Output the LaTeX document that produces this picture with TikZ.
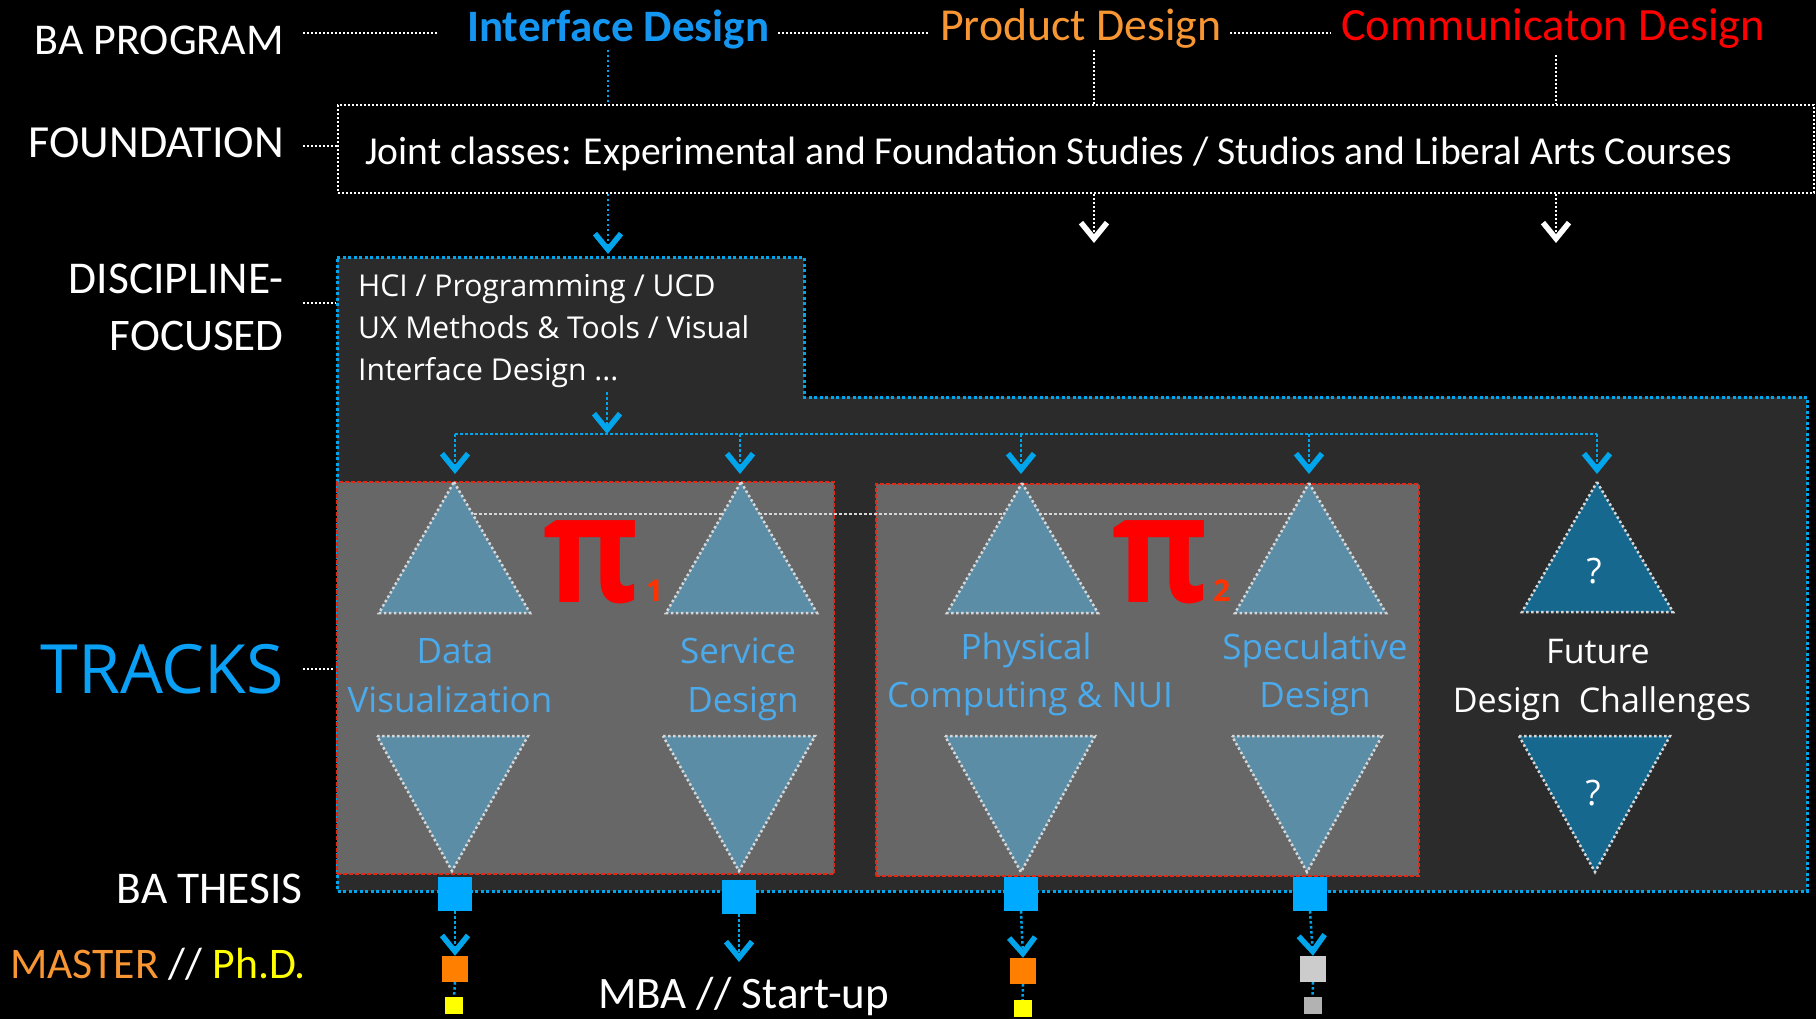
\documentclass[tikz,border=0pt]{standalone}
\usepackage{fontspec}
\usepackage{graphicx}
\setmainfont{Carlito}
\newfontfamily\osans{Open Sans}
\usetikzlibrary{arrows.meta}
\newcommand\myfs[1]{\fontsize{#1}{#1}\selectfont}
\definecolor{ifblue}{RGB}{20,150,240}
\definecolor{pdorange}{RGB}{247,150,50}
\definecolor{cdred}{RGB}{255,0,0}
\definecolor{ublue}{RGB}{0,165,235}
\definecolor{discfill}{RGB}{43,43,43}
\definecolor{trackfill}{RGB}{103,103,103}
\definecolor{trackred}{RGB}{225,40,20}
\definecolor{trifill}{RGB}{92,141,166}
\definecolor{futfill}{RGB}{23,104,143}
\definecolor{tridot}{RGB}{215,215,215}
\definecolor{tlblue}{RGB}{75,170,235}
\definecolor{tracksblue}{RGB}{10,160,245}
\definecolor{sqblue}{RGB}{0,170,255}
\definecolor{sqorange}{RGB}{255,128,0}
\definecolor{sqyellow}{RGB}{255,255,0}
\definecolor{sqgrayA}{RGB}{204,204,204}
\definecolor{sqgrayB}{RGB}{178,178,178}
\definecolor{subred}{RGB}{255,50,0}
\begin{document}
\begin{tikzpicture}[x=1pt,y=-1pt,
  lbl/.style={text=white,inner sep=0pt,font=\myfs{45}},
  wdot/.style={draw=white,line width=2pt,dash pattern=on 2pt off 2pt},
  bdot/.style={draw=ublue,line width=2.5pt,dash pattern=on 2.5pt off 2.5pt},
  barrow/.style={bdot,-{Straight Barb[length=16pt,width=26pt,line width=5.5pt]}},
  warrow/.style={wdot,-{Straight Barb[length=16pt,width=26pt,line width=5.5pt]}},
  tri/.style={fill=trifill,draw=tridot,line width=2.5pt,dash pattern=on 2.5pt off 2.5pt},
  futtri/.style={tri,fill=futfill},
  trackbox/.style={fill=trackfill,draw=trackred,line width=1.5pt,dash pattern=on 4pt off 2pt,inner sep=0pt,anchor=north west},
  tl/.style={text=tlblue,inner sep=0pt,anchor=base,font=\osans\myfs{35}},
  sq/.style={inner sep=0pt,draw=none,anchor=center}
]
\useasboundingbox (0,0) rectangle (1816,1019);
\fill[black] (0,0) rectangle (1816,1019);

% ---------- top row ----------
\node[lbl,anchor=base east,font=\myfs{44}] (baprog) at (284,55) {BA PROGRAM};
\node[inner sep=0pt,anchor=base west,text=ifblue,font=\bfseries\myfs{45}] (iface) at (467,42) {Interface Design};
\node[inner sep=0pt,anchor=base west,text=pdorange,font=\myfs{45.8}] (prod) at (940,41) {Product Design};
\node[inner sep=0pt,anchor=base west,text=cdred,font=\myfs{46.3}] (comm) at (1341,41) {Communicaton Design};
\coordinate (d1a) at (303,33); \coordinate (d1b) at (437,33);
\coordinate (d2a) at (778,33); \coordinate (d2b) at (929,33);
\coordinate (d3a) at (1230,33); \coordinate (d3b) at (1331,33);
\draw[wdot] (d1a) -- (d1b);
\draw[wdot] (d2a) -- (d2b);
\draw[wdot] (d3a) -- (d3b);

% ---------- foundation ----------
\node[lbl,anchor=base east,font=\myfs{46}] (found) at (284,158) {FOUNDATION};
\node[wdot,inner sep=0pt,anchor=north west,minimum width=1476pt,minimum height=88pt] (fbox) at (337,104) {};
\node[lbl,anchor=base west,font=\myfs{39.6}] (joint) at (365,165) {Joint classes: Experimental and Foundation Studies / Studios and Liberal Arts Courses};
\coordinate (fd) at (303,146);
\draw[wdot] (fd) -- (fd -| fbox.west);
\coordinate (vi) at (608,50); \coordinate (vp) at (1094,50); \coordinate (vc) at (1556,55);
\draw[bdot] (vi) -- (vi |- fbox.north);
\draw[wdot] (vp) -- (vp |- fbox.north);
\draw[wdot] (vc) -- (vc |- fbox.north);
\coordinate (ai) at (608,254); \coordinate (ap) at (1094,243); \coordinate (ac) at (1556,243);
\draw[warrow] (vp |- fbox.south) -- (ap);
\draw[warrow] (vc |- fbox.south) -- (ac);

% ---------- discipline ----------
\path[fill=discfill,draw=ublue,line width=3pt,dash pattern=on 3pt off 2.5pt]
  (337,258) -- (804,258) -- (804,397) -- (1807,397) -- (1807,891) -- (337,891) -- cycle;
\draw[barrow] (ai |- fbox.south) -- (ai);
\node[lbl,anchor=base east,font=\myfs{45.5}] (disc1) at (284,294) {DISCIPLINE-};
\node[lbl,anchor=base east,font=\myfs{45.2}] (disc2) at (284,350) {FOCUSED};
\coordinate (dd) at (303,303);
\draw[wdot] (dd) -- (336,303);
\node[lbl,anchor=base west,font=\osans\myfs{30.1}] (hci1) at (358,297) {HCI / Programming / UCD};
\node[lbl,anchor=base west,font=\osans\myfs{30.1}] (hci2) at (358,338) {UX Methods \& Tools / Visual};
\node[lbl,anchor=base west,font=\osans\myfs{30.1}] (hci3) at (358,380) {Interface Design ...};

% distribution
\coordinate (ds) at (607,392);
\coordinate (dh) at (607,434);
\draw[barrow] (ds) -- (dh);
\coordinate (h1) at (455,434); \coordinate (h2) at (740,434); \coordinate (h3) at (1021,434);
\coordinate (h4) at (1309,434); \coordinate (h5) at (1597,434);
\draw[bdot] (h1) -- (h5);

% ---------- tracks ----------
\node[trackbox,minimum width=497pt,minimum height=392pt] (tb1) at (336,481) {};
\node[trackbox,minimum width=543pt,minimum height=392pt] (tb2) at (875,483) {};
\foreach \c in {h1,h2,h3,h4,h5}{
  \draw[barrow] (\c) -- ++(0,40);
}
\draw[draw=tridot,line width=2.5pt,dash pattern=on 2.5pt off 2.5pt] (454,514) -- (1309,514);

% triangles
\path[tri] (454,482) -- (530,613) -- (379,613) -- cycle;
\path[tri] (377,736) -- (528,736) -- (452,871) -- cycle;
\path[tri] (741,482) -- (817,613) -- (666,613) -- cycle;
\path[tri] (663,736) -- (815,736) -- (739,871) -- cycle;
\path[tri] (1022,483) -- (1098,613) -- (947,613) -- cycle;
\path[tri] (945,736) -- (1095,736) -- (1021,872) -- cycle;
\path[tri] (1309,483) -- (1386,613) -- (1235,613) -- cycle;
\path[tri] (1232,736) -- (1382,736) -- (1307,872) -- cycle;
\path[futtri] (1597,482) -- (1673,612) -- (1522,612) -- cycle;
\path[futtri] (1519,736) -- (1670,736) -- (1595,872) -- cycle;
\node[inner sep=0pt,anchor=base,text=white,font=\osans\myfs{35}] (q1) at (1594,583) {?};
\node[inner sep=0pt,anchor=base,text=white,font=\osans\myfs{35}] (q2) at (1593,805) {?};

% pi symbols
\node[inner sep=0pt,anchor=base west,text=cdred,font=\osans\bfseries\myfs{150}] (pi1) at (543,602) {\scalebox{0.87}[1]{π}};
\node[inner sep=0pt,anchor=base west,text=subred,font=\osans\bfseries\myfs{30}] (sub1) at (646,601) {1};
\node[inner sep=0pt,anchor=base west,text=cdred,font=\osans\bfseries\myfs{150}] (pi2) at (1112,602) {\scalebox{0.87}[1]{π}};
\node[inner sep=0pt,anchor=base west,text=subred,font=\osans\bfseries\myfs{30}] (sub2) at (1213,601) {2};

% track labels
\node[tl] (dv1) at (455,663) {Data};
\node[tl] (dv2) at (450,712) {Visualization};
\node[tl] (sd1) at (738,663) {Service};
\node[tl] (sd2) at (743,712) {Design};
\node[tl] (pc1) at (1026,659) {Physical};
\node[tl] (pc2) at (1030,707) {Computing \& NUI};
\node[tl] (sp1) at (1315,659) {Speculative};
\node[tl] (sp2) at (1315,707) {Design};
\node[tl,text=white,font=\osans\myfs{34}] (fu1) at (1598,663) {Future};
\node[tl,text=white,font=\osans\myfs{34}] (fu2) at (1602,712) {Design\ \ Challenges};

\node[inner sep=0pt,anchor=base east,text=tracksblue,font=\osans\myfs{68}] (tracks) at (284,693) {TRACKS};
\coordinate (td) at (303,669);
\draw[wdot] (td) -- (334,669);

% ---------- thesis & beyond ----------
\node[lbl,anchor=base east,font=\myfs{45.4}] (thesis) at (303,903) {BA THESIS};
\node[lbl,anchor=base west,font=\myfs{43.7}] (master) at (10,978) {\textcolor{pdorange}{MASTER} // \textcolor{sqyellow}{Ph.D.}};
\node[lbl,anchor=base west] (mba) at (598,1008) {MBA // Start-up};

\node[sq,fill=sqblue,minimum width=34pt,minimum height=34pt] (b1) at (455,894) {};
\node[sq,fill=sqblue,minimum width=34pt,minimum height=34pt] (b2) at (739,897) {};
\node[sq,fill=sqblue,minimum width=34pt,minimum height=34pt] (b3) at (1021,894) {};
\node[sq,fill=sqblue,minimum width=34pt,minimum height=34pt] (b4) at (1310,894) {};
\node[sq,fill=sqorange,minimum width=26pt,minimum height=26pt] (o1) at (455,969) {};
\node[sq,fill=sqorange,minimum width=26pt,minimum height=26pt] (o3) at (1023,971) {};
\node[sq,fill=sqgrayA,minimum width=26pt,minimum height=26pt] (o4) at (1313,969) {};
\node[sq,fill=sqyellow,minimum width=18pt,minimum height=17pt] (y1) at (454,1005.5) {};
\node[sq,fill=sqyellow,minimum width=18pt,minimum height=17pt] (y3) at (1022.5,1008.5) {};
\node[sq,fill=sqgrayB,minimum width=18pt,minimum height=17pt] (y4) at (1312.5,1005.5) {};
\coordinate (m2) at (739,962);
\draw[barrow] (b1.south) -- (o1.north);
\draw[barrow] (b2.south) -- (m2);
\draw[barrow] (b3.south) -- (o3.north);
\draw[barrow] (b4.south) -- (o4.north);
\draw[bdot] (o1.south) -- (y1.north);
\draw[bdot] (o3.south) -- (y3.north);
\draw[bdot] (o4.south) -- (y4.north);
\end{tikzpicture}
\end{document}
